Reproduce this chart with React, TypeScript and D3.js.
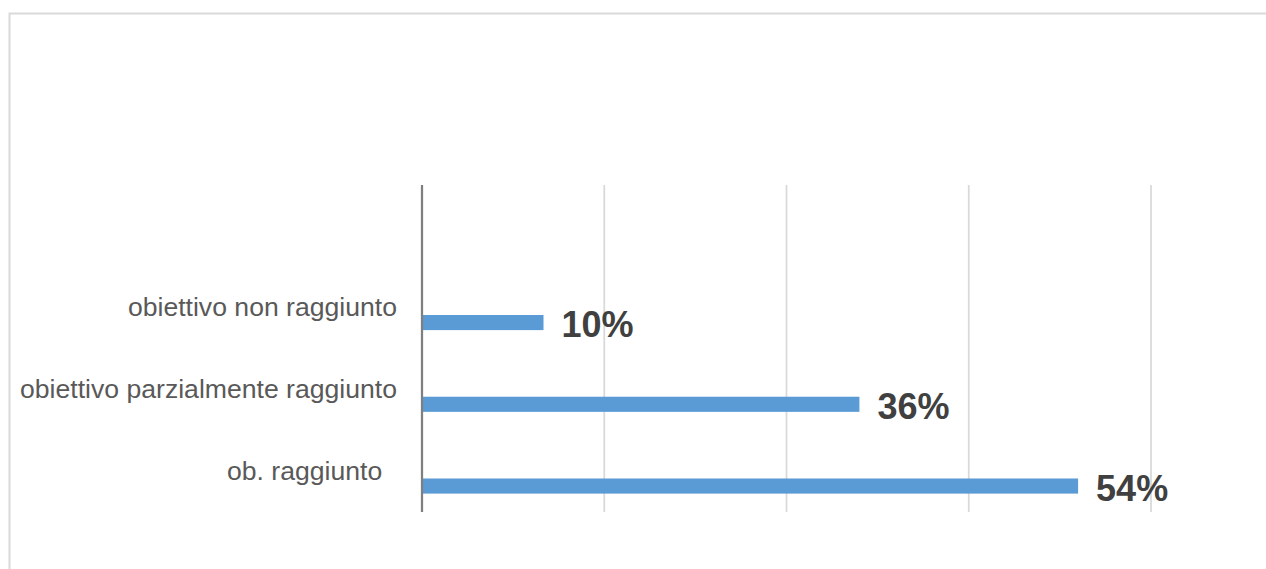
import React, { useEffect, useRef } from 'react';
import * as d3 from 'd3';

// categories top to bottom (first slot is an empty category)
const categories = ['', 'obiettivo non raggiunto', 'obiettivo parzialmente raggiunto', 'ob. raggiunto  '];
const values: (number | null)[] = [null, 0.10, 0.36, 0.54];
const xTicks = [0, 0.15, 0.3, 0.45, 0.6];

const App: React.FC = () => {
  const svgRef = useRef<SVGSVGElement>(null);

  useEffect(() => {
    if (!svgRef.current) return;
    const width = 1266;
    const height = 569;
    const marginLeft = 422;
    const marginRight = 115;
    const marginTop = 185;
    const plotBottom = 512;

    const svg = d3.select(svgRef.current);
    svg.selectAll('*').remove();

    // chart frame
    svg.append('rect')
      .attr('x', 9.5)
      .attr('y', 13.5)
      .attr('width', width + 50)
      .attr('height', height + 50)
      .attr('fill', 'white')
      .attr('stroke', '#d9d9d9')
      .attr('stroke-width', 2);

    const x = d3.scaleLinear()
      .domain([0, 0.6])
      .range([marginLeft, width - marginRight]);

    const y = d3.scaleBand<string>()
      .domain(categories)
      .range([marginTop, plotBottom]);

    // gridlines
    svg.append('g')
      .selectAll('line')
      .data(xTicks.slice(1))
      .join('line')
      .attr('x1', d => x(d))
      .attr('x2', d => x(d))
      .attr('y1', marginTop)
      .attr('y2', plotBottom)
      .attr('stroke', '#d9d9d9')
      .attr('stroke-width', 1.75);

    // bars (sit in the lower part of each category band)
    const bw = y.bandwidth();
    const barH = bw * 0.185;
    const barOff = bw * 0.59;
    const rows = categories.map((c, i) => ({ c, v: values[i] })).filter(d => d.v != null) as { c: string; v: number }[];

    svg.append('g')
      .selectAll('rect')
      .data(rows)
      .join('rect')
      .attr('x', x(0))
      .attr('y', d => (y(d.c) ?? 0) + barOff)
      .attr('width', d => x(d.v) - x(0))
      .attr('height', barH)
      .attr('fill', '#5b9bd5');

    // value labels
    svg.append('g')
      .selectAll('text')
      .data(rows)
      .join('text')
      .attr('x', d => x(d.v) + 18)
      .attr('y', d => (y(d.c) ?? 0) + barOff + barH / 2 + 14.5)
      .attr('fill', '#404040')
      .attr('font-family', '"Liberation Sans", Arial, sans-serif')
      .attr('font-weight', 'bold')
      .attr('font-size', 36)
      .text(d => d3.format('.0%')(d.v));

    // category labels
    svg.append('g')
      .selectAll('text')
      .data(categories.filter(c => c !== ''))
      .join('text')
      .attr('x', marginLeft - 25)
      .attr('y', d => (y(d) ?? 0) + bw / 2 + 8.5)
      .attr('text-anchor', 'end')
      .attr('fill', '#595959')
      .attr('font-family', '"Liberation Sans", Arial, sans-serif')
      .attr('font-size', 26.6)
      .style('white-space', 'pre')
      .text(d => d);

    // category axis line
    svg.append('line')
      .attr('x1', x(0))
      .attr('x2', x(0))
      .attr('y1', marginTop)
      .attr('y2', plotBottom)
      .attr('stroke', '#7f7f7f')
      .attr('stroke-width', 2.25);
  }, []);

  return (
    <div style={{ position: 'absolute', left: 0, top: 0, width: 1266, height: 569, overflow: 'hidden' }}>
      <svg ref={svgRef} width={1266} height={569} style={{ display: 'block' }}></svg>
    </div>
  );
};

export default App;
